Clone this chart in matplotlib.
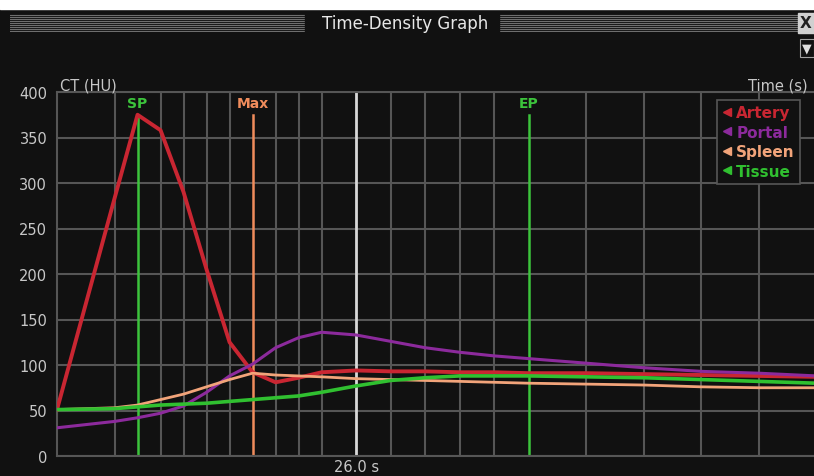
import matplotlib.pyplot as plt
from matplotlib.lines import Line2D
from matplotlib.patches import Rectangle

# scan times (s) and enhancement values (HU)
times  = [0, 5, 7, 9, 11, 13, 15, 17, 19, 21, 23, 26, 29, 32, 35, 38, 41, 46, 51, 56, 61, 66]
artery = [51, 283, 375, 358, 290, 205, 125, 92, 81, 86, 92, 94, 93, 93, 92, 92, 91, 91, 90, 89, 88, 87]
portal = [31, 38, 42, 47, 55, 70, 88, 101, 119, 130, 136, 133, 126, 119, 114, 110, 107, 102, 97, 93, 91, 88]
spleen = [51, 53, 56, 62, 68, 76, 84, 91, 89, 88, 87, 85, 84, 83, 82, 81, 80, 79, 78, 76, 75, 75]
tissue = [51, 52, 54, 56, 57, 58, 60, 62, 64, 66, 70, 77, 83, 86, 88, 88, 88, 87, 86, 84, 82, 80]

series_names  = ["Artery", "Portal", "Spleen", "Tissue"]
series_colors = ["#c92632", "#8c2a9c", "#f2a47a", "#30c030"]

grid_times = [5, 9, 11, 13, 15, 19, 21, 23, 29, 32, 35, 38, 46, 51, 56, 61]
markers = {"SP": (7, "#3cc43c"), "Max": (17, "#f08c5c"), "EP": (41, "#3cc43c")}
cursor_t = 26.0

BG = "#111111"
GRID = "#565656"
TXT = "#c8c8c8"

W, H = 814, 477
fig = plt.figure(figsize=(W / 100, H / 100), dpi=100, facecolor=BG)

# white strip at the very top (screenshot edge)
fig.patches.append(Rectangle((0, 1 - 10 / H), 1, 10 / H, transform=fig.transFigure,
                             color="white", zorder=0))

# title bar
bar = fig.add_axes([10 / W, 1 - 33 / H, 788 / W, 18 / H])
bar.set_xlim(0, 788)
bar.set_ylim(0, 18)
bar.set_facecolor("#4a4a4a")
for yy in range(1, 18, 2):
    bar.axhline(yy, color="#6e6e6e", lw=0.8)
bar.add_patch(Rectangle((295, 0), 194, 18, color=BG, zorder=3))
bar.text(395, 9, "Time-Density Graph", color="#e8e8e8", fontsize=12,
         ha="center", va="center", zorder=4)
bar.axis("off")

# close / dropdown buttons
fig.text(806 / W, 1 - 24 / H, "X", color="#202020", fontsize=11, fontweight="bold",
         ha="center", va="center",
         bbox=dict(boxstyle="square,pad=0.15", fc="#d0d0d0", ec="#d0d0d0"))
fig.text(807 / W, 1 - 49 / H, "\u25BC", color="#e0e0e0", fontsize=9,
         ha="center", va="center",
         bbox=dict(boxstyle="square,pad=0.2", fc=BG, ec="#a0a0a0", lw=0.8))

ax = fig.add_axes([57 / W, 20 / H, (W - 57) / W, (457 - 93) / H])
ax.set_facecolor(BG)
ax.set_xlim(0, 65.8)
ax.set_ylim(0, 400)

ax.set_yticks(range(0, 401, 50))
ax.set_xticks(grid_times)
ax.set_xticklabels([])
ax.tick_params(length=0, colors=TXT, labelsize=10.5, pad=7)
ax.grid(True, color=GRID, lw=1.5)
ax.set_axisbelow(True)
for s in ["left", "bottom", "top"]:
    ax.spines[s].set_color(GRID)
    ax.spines[s].set_linewidth(1.5)
ax.spines["right"].set_visible(False)

# cursor and phase markers
ax.axvline(cursor_t, color="#d8d8d8", lw=2, zorder=2)
for name, (t, c) in markers.items():
    ax.plot([t, t], [0, 375], color=c, lw=1.8, zorder=2)
    ax.text(t, 388, name, color=c, fontsize=10, fontweight="bold",
            ha="center", va="center")

# curves
widths = [2.8, 2.2, 2.0, 2.6]
for vals, c, lw in zip([artery, portal, spleen, tissue], series_colors, widths):
    ax.plot(times, vals, color=c, lw=lw, zorder=3)

ax.text(cursor_t, -11, "26.0 s", color=TXT, fontsize=10.5, ha="center", va="center",
        clip_on=False)

fig.text(60 / W, 1 - 86 / H, "CT (HU)", color=TXT, fontsize=10.5, va="center")
fig.text(808 / W, 1 - 86 / H, "Time (s)", color=TXT, fontsize=10.5, va="center", ha="right")

handles = [Line2D([], [], marker="<", ls="none", color=c, markersize=6) for c in series_colors]
leg = ax.legend(handles, series_names, loc="upper left", bbox_to_anchor=(0.862, 1.0),
                frameon=True, facecolor=BG, edgecolor=GRID, framealpha=1,
                labelcolor=series_colors, prop={"weight": "bold", "size": 11},
                handlelength=0.6, handletextpad=0.3, borderpad=0.35,
                labelspacing=0.3, fancybox=False)
leg.get_frame().set_linewidth(1.2)

fig.savefig("out.png", dpi=100, facecolor=BG)
